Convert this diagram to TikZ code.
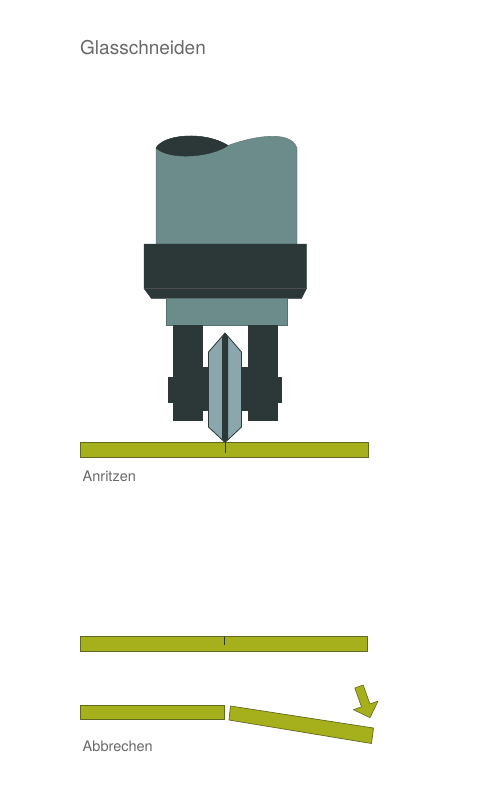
\documentclass[tikz,border=0pt]{standalone}
\usepackage{fontspec}
\setmainfont{TeX Gyre Heros}
\begin{document}
\definecolor{steel}{RGB}{108,139,139}
\definecolor{darksteel}{RGB}{44,56,56}
\definecolor{blade}{RGB}{138,168,172}
\definecolor{glass}{RGB}{166,176,28}
\definecolor{glassedge}{RGB}{98,104,30}
\definecolor{labelgray}{RGB}{105,105,105}
\begin{tikzpicture}[x=1pt,y=-1pt,
  part/.style={fill=steel,draw=steel!80!black,line width=0.4pt},
  darkpart/.style={fill=darksteel,draw=darksteel,line width=0.4pt},
  pane/.style={fill=glass,draw=glassedge,line width=0.7pt,line join=round},
  scratch/.style={draw=darksteel,line width=0.6pt},
  caption/.style={anchor=base west,inner sep=0pt,text=labelgray,font=\fontsize{14.5}{17}\selectfont},
  title/.style={anchor=base west,inner sep=0pt,text=labelgray,font=\fontsize{19}{22}\selectfont}]
\useasboundingbox (0,0) rectangle (478,806);
\fill[white] (0,0) rectangle (478,806);

% heading
\node[title] (heading) at (80,54) {Glasschneiden};

% spindle with wavy cut top
\path[part] (156,244) -- (156,148)
  .. controls (164,134) and (205,131) .. (228,145.5)
  .. controls (248,138) and (290,128) .. (297,148)
  -- (297,244) -- cycle;
\path[darkpart] (156,148)
  .. controls (164,134) and (205,131) .. (228,145.5)
  .. controls (212,157) and (170,161) .. (156,148) -- cycle;

% clamping collar
\path[darkpart] (144,244) -- (306.5,244) -- (306.5,288.5) -- (301.5,298.5)
  -- (151.5,298.5) -- (144,288.5) -- cycle;
\draw[black!70,line width=0.5pt] (144,288.5) -- (306.5,288.5);

% holder block
\path[part] (166,298.5) rectangle (287,325.5);

% fork legs, axle bosses and side lugs
\path[darkpart] (173,325.5) rectangle (202,420);
\path[darkpart] (248,325.5) rectangle (277,420);
\path[darkpart] (202,367) rectangle (210,410);
\path[darkpart] (241,367) rectangle (248,410);
\path[darkpart] (168,377) rectangle (173,402);
\path[darkpart] (277,377) rectangle (281.5,402);

% cutting wheel seen edge-on
\path[fill=blade,draw=darksteel,line width=0.8pt,line join=round]
  (225,333) -- (241.5,352) -- (241.5,427) -- (225,442.5)
  -- (208.5,427) -- (208.5,352) -- cycle;
\fill[darksteel] (225,333) -- (228,337) -- (228,439) -- (225,442.5)
  -- (222,439) -- (222,337) -- cycle;

% scoring
\path[pane] (80.5,442) rectangle (368,457);
\draw[scratch] (225,441) -- (225,453);
\node[caption] (score) at (82.5,481.7) {Anritzen};

% scored pane
\path[pane] (80,636.7) rectangle (367.3,651.7);
\draw[scratch] (224.3,636.7) -- (224.3,645);

% breaking
\path[pane] (80,705.3) rectangle (224,719.3);
\path[pane] (230.5,706) -- (373.5,728) -- (371.5,743.5) -- (229,720) -- cycle;
\path[pane,line width=0.6pt] (354.8,688.0) -- (363.2,685.0) -- (369.9,703.9)
  -- (378.0,701.1) -- (370,717.7) -- (353.4,709.7) -- (361.5,706.9) -- cycle;
\node[caption] (snap) at (82.5,751.5) {Abbrechen};
\end{tikzpicture}
\end{document}
